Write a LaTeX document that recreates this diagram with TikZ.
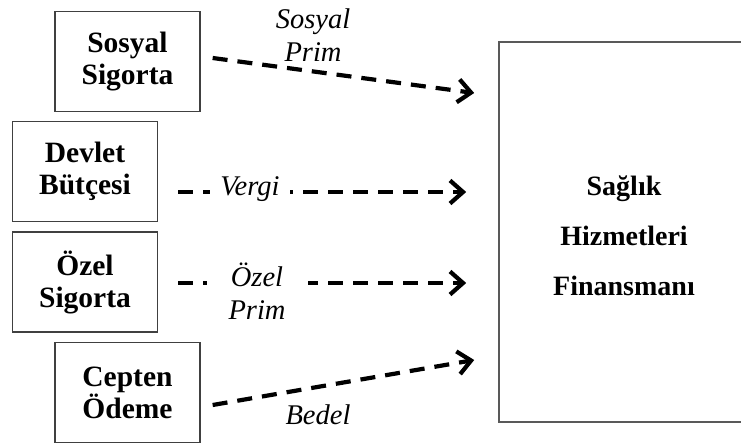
\documentclass[tikz,border=0pt]{standalone}
\usepackage{fontspec}
\setmainfont{Liberation Serif}
\usetikzlibrary{arrows.meta}
\begin{document}
\begin{tikzpicture}[x=1pt,y=1pt,
  source/.style={draw=black!75, line width=1.3pt, minimum width=145pt, minimum height=100pt,
    inner sep=0pt, align=center, font=\fontsize{29.5}{32}\selectfont\bfseries},
  target/.style={draw=black!65, line width=1.6pt, minimum width=290pt, minimum height=380pt,
    inner sep=0pt, align=center, font=\fontsize{28}{50}\selectfont\bfseries},
  flow/.style={line width=4.2pt, dash pattern=on 15pt off 10pt,
    -{Straight Barb[length=13pt,width=23pt]}},
  lbl/.style={inner sep=0pt, align=center, font=\fontsize{28.5}{33}\selectfont\itshape},
]
\useasboundingbox (0,0) rectangle (741,-444);
\begin{scope}
\clip (0,0) rectangle (741,-444);
% funding sources
\node[source] (ss) at (127.5,-61.5) {Sosyal\\Sigorta};
\node[source] (db) at (85,-171.5) {Devlet\\Bütçesi};
\node[source] (oz) at (85,-282) {Özel\\Sigorta};
\node[source] (cp) at (127.5,-392.5) {Cepten\\Ödeme};
% financing pool, its right side runs off the page
\node[target] (fin) at (644,-232) {};
\node[font=\fontsize{28}{50}\selectfont\bfseries, align=center] (fintext) at (624,-236) {Sağlık\\Hizmetleri\\Finansmanı};

% flows into the pool
\draw[flow] ([xshift=12pt,yshift=3.5pt]ss.east) -- ([xshift=-24pt,yshift=139pt]fin.west);
\draw[flow] ([xshift=20pt,yshift=-20.5pt]db.east) -- ([xshift=-32pt,yshift=40pt]fin.west);
\draw[flow] ([xshift=20pt,yshift=-1pt]oz.east) -- ([xshift=-32pt,yshift=-51pt]fin.west);
\draw[flow] ([xshift=12pt,yshift=-12.5pt]cp.east) -- ([xshift=-24pt,yshift=-128pt]fin.west);

% flow labels
\node[lbl] (lss) at (313,-35.5) {Sosyal\\Prim};
\node[lbl, fill=white, inner xsep=10pt, inner ysep=3pt, anchor=base] (ldb) at (250,-195) {Vergi};
\node[lbl, fill=white, inner xsep=22pt, inner ysep=3pt] (loz) at (257,-291) {Özel\\Prim};
\node[lbl, anchor=base] (lcp) at (318,-424) {Bedel};
\end{scope}
\end{tikzpicture}
\end{document}
